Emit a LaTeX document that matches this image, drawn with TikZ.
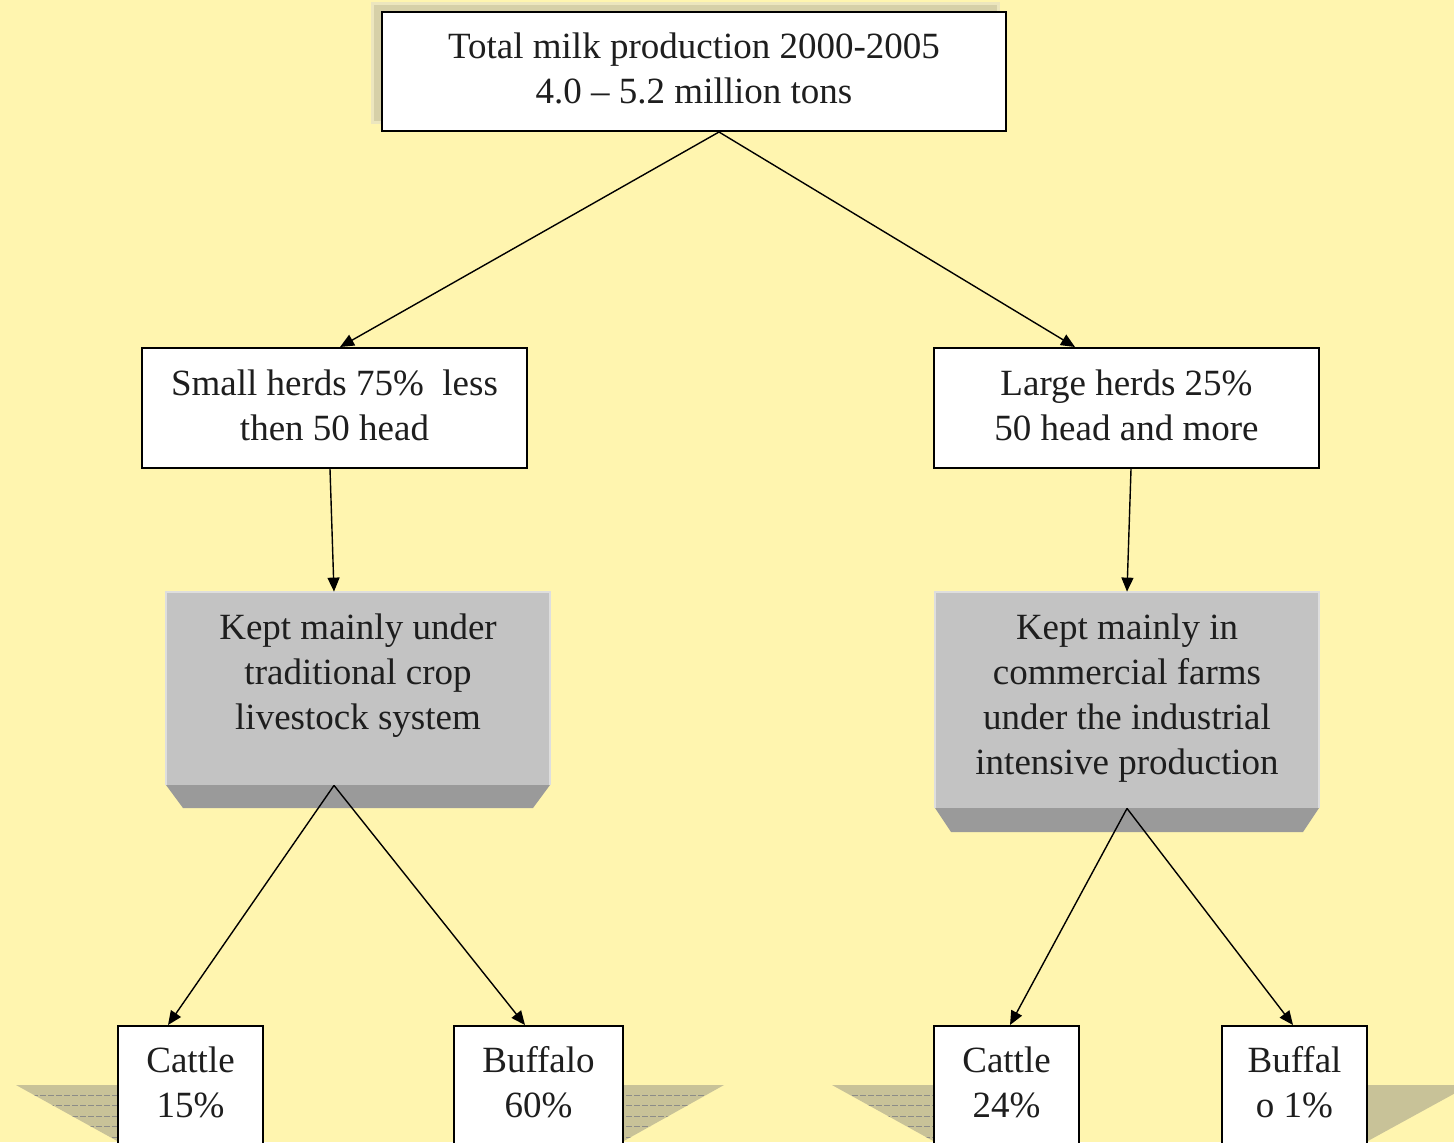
\documentclass[tikz,border=0pt]{standalone}
\usepackage{fontspec}
\setmainfont{Liberation Serif}
\usetikzlibrary{arrows.meta}
\definecolor{bg}{RGB}{255,245,175}
\definecolor{shadowc}{RGB}{214,208,168}
\definecolor{shadowedge}{RGB}{236,230,190}
\definecolor{facec}{RGB}{195,195,195}
\definecolor{bevelc}{RGB}{154,154,154}
\definecolor{faceedge}{RGB}{222,222,222}
\definecolor{basec}{RGB}{200,194,152}
\definecolor{basel}{RGB}{140,140,135}
\definecolor{txt}{RGB}{30,30,30}
\begin{document}
\begin{tikzpicture}[x=0.5pt,y=-0.5pt,
  every node/.style={font=\fontsize{18.5}{22.5}\selectfont, text=txt},
  whitebox/.style={draw=black, line width=1pt, fill=white, inner sep=0pt, align=center},
  facebox/.style={fill=facec, inner sep=0pt},
  label/.style={align=center, inner sep=0pt},
  basepiece/.style={fill=basec},
  conn/.style={line width=0.7pt, -{Triangle[length=7pt,width=6pt]}}
]
\useasboundingbox (0,0) rectangle (1454,1142);
\clip (0,0) rectangle (1454,1142);
\fill[bg] (0,0) rectangle (1454,1142);

% shadow of top box
\filldraw[fill=shadowc, draw=shadowedge, line width=1.5pt] (372,3) rectangle (998,122);

% top box
\node[whitebox, minimum width=312pt, minimum height=59.5pt] (top) at (694,71.5) {};
\node[label] (topt) at (694,68.5) {Total milk production 2000-2005\\4.0 -- 5.2 million tons};

% second level
\node[whitebox, minimum width=192.5pt, minimum height=60pt] (small) at (334.5,408) {};
\node[label] (smallt) at (334.5,405) {Small herds 75\%\ \ less\\then 50 head};
\node[whitebox, minimum width=192.5pt, minimum height=60pt] (large) at (1126.5,408) {};
\node[label] (larget) at (1126.5,405) {Large herds 25\%\\50 head and more};

% gray 3D boxes
\fill[bevelc] (166,785) -- (550,785) -- (533,808) -- (183,808) -- cycle;
\node[facebox, minimum width=192pt, minimum height=96.5pt] (k1) at (358,688.5) {};
\draw[faceedge, line width=1pt] (k1.south west) -- (k1.north west) -- (k1.north east) -- (k1.south east);
\node[label] (k1t) at (358,675.5) {Kept mainly under\\traditional crop\\livestock system};

\fill[bevelc] (935,808) -- (1319,808) -- (1303,832) -- (951,832) -- cycle;
\node[facebox, minimum width=192pt, minimum height=108pt] (k2) at (1127,700) {};
\draw[faceedge, line width=1pt] (k2.south west) -- (k2.north west) -- (k2.north east) -- (k2.south east);
\node[label] (k2t) at (1127,698) {Kept mainly in\\commercial farms\\under the industrial\\intensive production};

% base pieces beside bottom boxes
\begin{scope}
  \clip (16,1085) -- (119,1085) -- (119,1142) -- cycle;
  \fill[basepiece] (0,1080) rectangle (130,1150);
  \foreach \yy in {1095,1105,1116,1126,1137}
    \draw[basel, line width=0.4pt, dash pattern=on 3pt off 1pt] (0,\yy) -- (130,\yy);
\end{scope}
\begin{scope}
  \clip (622,1085) -- (724,1085) -- (622,1142) -- cycle;
  \fill[basepiece] (610,1080) rectangle (740,1150);
  \foreach \yy in {1095,1105,1116,1126,1137}
    \draw[basel, line width=0.4pt, dash pattern=on 3pt off 1pt] (610,\yy) -- (740,\yy);
\end{scope}
\begin{scope}
  \clip (832,1085) -- (935,1085) -- (935,1142) -- cycle;
  \fill[basepiece] (820,1080) rectangle (950,1150);
  \foreach \yy in {1095,1105,1116,1126,1137}
    \draw[basel, line width=0.4pt, dash pattern=on 3pt off 1pt] (820,\yy) -- (950,\yy);
\end{scope}
\fill[basepiece] (1366,1085) -- (1470,1085) -- (1366,1142) -- cycle;

% bottom boxes
\node[whitebox, minimum width=72.5pt, minimum height=80pt, anchor=north] (c1) at (190.5,1025) {};
\node[label] (c1t) at (190.5,1082.5) {Cattle\\15\%};
\node[whitebox, minimum width=84.5pt, minimum height=80pt, anchor=north] (b1) at (538.5,1025) {};
\node[label] (b1t) at (538.5,1082.5) {Buffalo\\60\%};
\node[whitebox, minimum width=72.5pt, minimum height=80pt, anchor=north] (c2) at (1006.5,1025) {};
\node[label] (c2t) at (1006.5,1082.5) {Cattle\\24\%};
\node[whitebox, minimum width=72.5pt, minimum height=80pt, anchor=north] (b2) at (1294.5,1025) {};
\node[label] (b2t) at (1294.5,1082.5) {Buffal\\o 1\%};

% connectors
\draw[conn] ([xshift=12.5pt]top.south) -- ([xshift=2.75pt]small.north);
\draw[conn] ([xshift=12.5pt]top.south) -- ([xshift=-25.75pt]large.north);
\draw[conn] ([xshift=-2.25pt]small.south) -- ([xshift=-12pt]k1.north);
\draw[conn] ([xshift=2.25pt]large.south) -- (k2.north);
\draw[conn] ([xshift=-12pt]k1.south) -- ([xshift=-11.25pt]c1.north);
\draw[conn] ([xshift=-12pt]k1.south) -- ([xshift=-6.75pt]b1.north);
\draw[conn] (k2.south) -- ([xshift=1.75pt]c2.north);
\draw[conn] (k2.south) -- ([xshift=-0.75pt]b2.north);
\end{tikzpicture}
\end{document}
